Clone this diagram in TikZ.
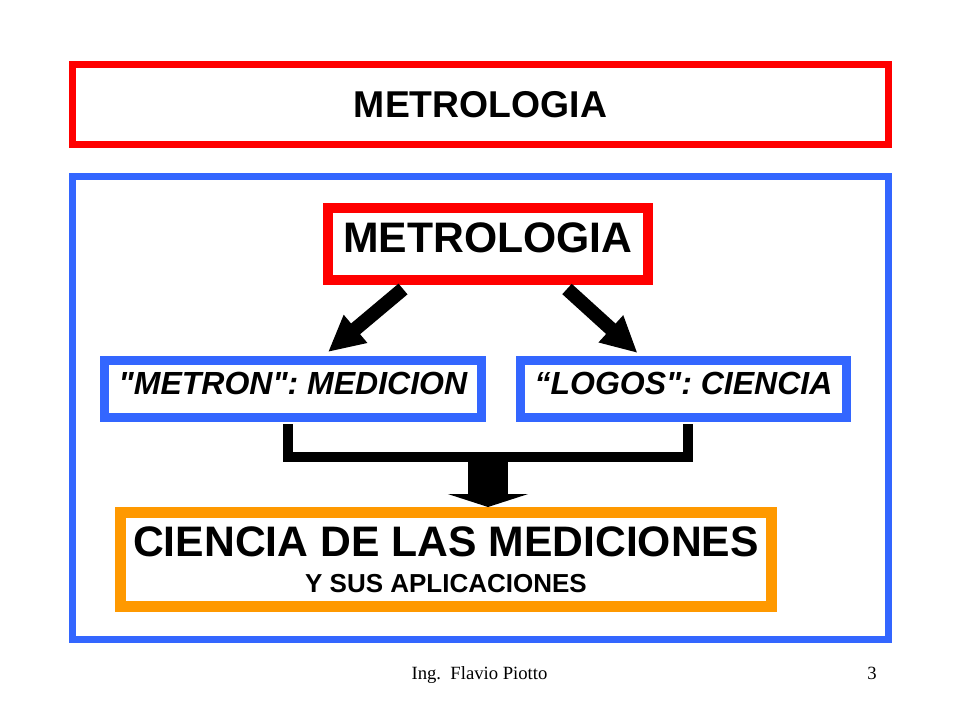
\documentclass[tikz,border=0pt]{standalone}
\usepackage{fontspec}
\setmainfont{Liberation Sans}
\newfontfamily\footfont{Liberation Serif}
\usetikzlibrary{arrows.meta}
\definecolor{slidered}{RGB}{255,0,0}
\definecolor{slideblue}{RGB}{51,102,255}
\definecolor{slideorange}{RGB}{255,153,0}

\begin{document}
\begin{tikzpicture}[x=0.75pt, y=-0.75pt,
    framebox/.style={draw, rectangle, inner sep=0pt},
    wordbox/.style={framebox, draw=slideblue, line width=6.75pt, minimum height=42.75pt,
        text depth=8pt, font=\bfseries\itshape\fontsize{24}{28}\selectfont},
    bigarrow/.style={line width=10.5pt, -{Triangle[width=25.5pt,length=27pt]}},
    bracket/.style={line width=7.5pt},
    blockarrow/.style={line width=30pt, -{Triangle[width=60pt,length=9.75pt]}}
]

    \useasboundingbox (0,0) rectangle (960,720);

    % title and outer frame
    \node[framebox, draw=slidered, line width=5.25pt, minimum width=612pt, minimum height=60pt,
        font=\bfseries\fontsize{28}{34}\selectfont] (title) at (480.5,104.5) {METROLOGIA};
    \node[framebox, draw=slideblue, line width=5.25pt, minimum width=612pt, minimum height=347.25pt] (frame) at (480.5,408) {};

    \node[framebox, draw=slidered, line width=7.5pt, minimum width=240pt, minimum height=54pt,
        text depth=9pt, font=\bfseries\fontsize{32}{38}\selectfont] (metro) at (488,244) {METROLOGIA};

    \node[wordbox, minimum width=282.75pt] (metron) at (293,389) {\textquotedbl METRON\textquotedbl: MEDICION};
    \node[wordbox, minimum width=244.5pt] (logos) at (683.5,389) {“LOGOS\textquotedbl: CIENCIA};

    \node[framebox, draw=slideorange, line width=8.25pt, minimum width=488.25pt, minimum height=70.5pt,
        align=center, font=\bfseries\fontsize{32}{27}\selectfont] (ciencia) at (446,559.5)
        {CIENCIA DE LAS MEDICIONES\\{\fontsize{19.5}{27}\selectfont Y SUS APLICACIONES}};

    % arrows
    \draw[bigarrow] ([shift={(-85,4)}]metro.south) -- ([shift={(35,-4)}]metron.north);
    \draw[bigarrow] ([shift={(79,4)}]metro.south) -- ([shift={(-46,-3)}]logos.north);

    \coordinate (join) at (488,457);
    \draw[bracket] ([shift={(-5,2)}]metron.south) |- (join) -| ([shift={(4.5,2)}]logos.south);
    \draw[blockarrow] (join) -- (join |- ciencia.north);

    % footer
    \node[anchor=base, font=\footfont\fontsize{14}{17}\selectfont] (author) at (479.5,679) {Ing.\ \ Flavio Piotto};
    \node[anchor=base, font=\footfont\fontsize{14}{17}\selectfont] (page) at (872,679) {3};

\end{tikzpicture}
\end{document}
